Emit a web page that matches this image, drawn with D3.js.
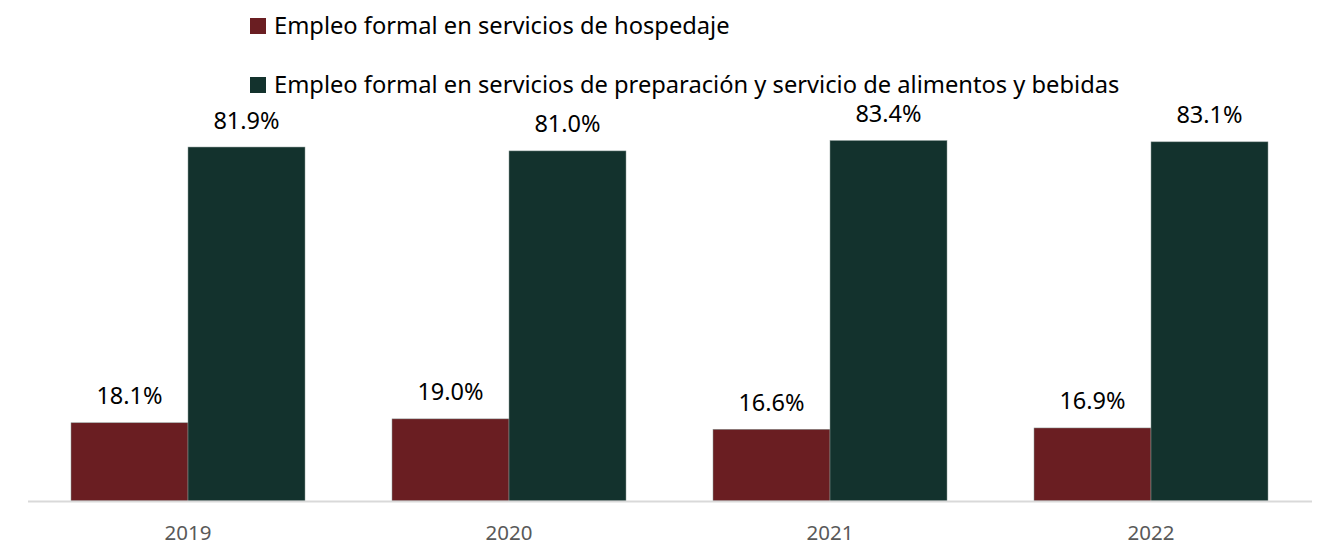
<!DOCTYPE html>
<html>
<head>
<meta charset="utf-8">
<script src="https://cdn.jsdelivr.net/npm/d3@7"></script>
<style>
  body { margin: 0; background: #fff; }
  svg text { font-family: "Source Sans Pro", "Noto Sans", sans-serif; }
</style>
</head>
<body>
<svg id="chart" width="1317" height="546"></svg>
<script>
// datos
const years = ['2019', '2020', '2021', '2022'];
const seriesNames = [
    'Empleo formal en servicios de hospedaje',
    'Empleo formal en servicios de preparación y servicio de alimentos y bebidas'
];
const hospedaje = [18.1, 19.0, 16.6, 16.9];
const alimentos = [81.9, 81.0, 83.4, 83.1];
const colors = ['#6a1e22', '#13322d'];

const rows = years.map((y, i) => ({ year: y, values: [hospedaje[i], alimentos[i]] }));

let svg = d3.select('#chart');
const fontFam = '"Source Sans Pro", "Noto Sans", sans-serif';

const baseY = 501;
let x0 = d3.scaleBand().domain(years).range([27.5, 1311.5]).padding(0);
let x1 = d3.scaleBand().domain([0, 1]).range([43.5, 277.5]).padding(0);
let y = d3.scaleLinear().domain([0, 90]).range([baseY, baseY - 90 * 4.322]);

// barras
let groups = svg.append('g')
    .selectAll('g')
    .data(rows)
    .enter()
    .append('g')
    .attr('transform', d => `translate(${x0(d.year)},0)`);

groups.selectAll('rect')
    .data(d => d.values.map((v, k) => ({ k: k, v: v })))
    .enter()
    .append('rect')
    .attr('x', d => x1(d.k))
    .attr('y', d => y(d.v))
    .attr('width', x1.bandwidth())
    .attr('height', d => baseY - y(d.v))
    .attr('fill', d => colors[d.k])
    .attr('stroke', '#8a9a96')
    .attr('stroke-width', 0.5);

// etiquetas de valor
groups.selectAll('text')
    .data(d => d.values.map((v, k) => ({ k: k, v: v })))
    .enter()
    .append('text')
    .attr('x', d => x1(d.k) + x1.bandwidth() / 2)
    .attr('y', d => y(d.v) - 18.5)
    .attr('text-anchor', 'middle')
    .attr('font-size', 23.5)
    .attr('fill', '#000')
    .text(d => d.v.toFixed(1) + '%');

// eje x
let xAxis = d3.axisBottom(x0).tickSize(0).tickPadding(24);
let ax = svg.append('g')
    .attr('transform', `translate(0,${baseY})`)
    .call(xAxis);
ax.select('.domain').attr('stroke', '#d9d9d9').attr('stroke-width', 2);
ax.selectAll('text')
    .attr('font-size', 20.5)
    .attr('fill', '#595959')
    .style('font-family', fontFam);

// leyenda
let legend = svg.append('g')
    .selectAll('g')
    .data(seriesNames)
    .enter()
    .append('g')
    .attr('transform', (d, i) => `translate(250,${18 + i * 59})`);
legend.append('rect')
    .attr('width', 16)
    .attr('height', 16)
    .attr('fill', (d, i) => colors[i]);
legend.append('text')
    .attr('x', 24)
    .attr('y', 16)
    .attr('font-size', 23.7)
    .attr('fill', '#000')
    .text(d => d);
</script>
</body>
</html>
